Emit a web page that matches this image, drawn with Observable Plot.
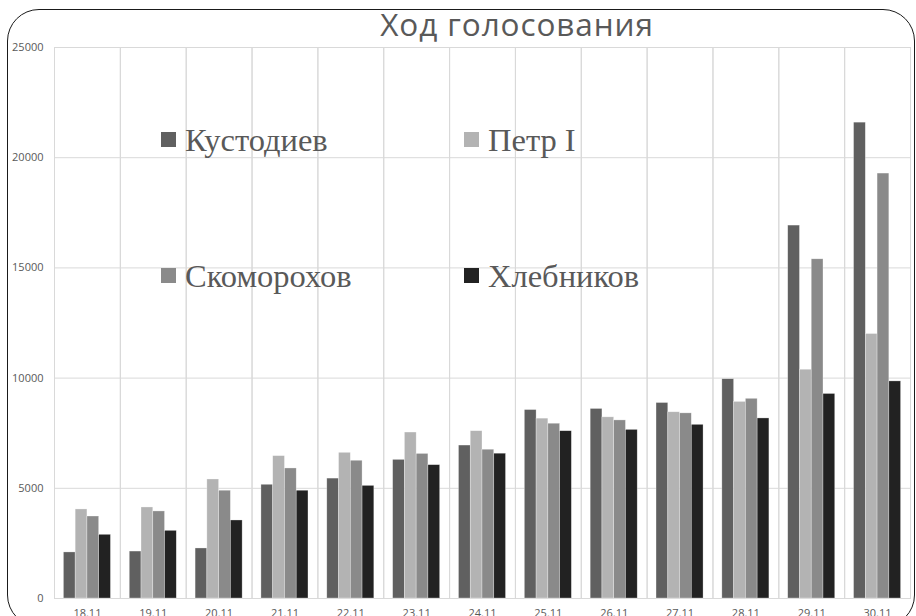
<!DOCTYPE html>
<html>
<head>
<meta charset="utf-8">
<script src="https://cdn.jsdelivr.net/npm/d3@7"></script>
<script src="https://cdn.jsdelivr.net/npm/@observablehq/plot@0.6"></script>
<style>
  html, body { margin: 0; padding: 0; background: #fff; }
  #wrap { position: relative; width: 916px; height: 616px; overflow: hidden; background: #fff; }
  #chart { position: absolute; left: 0; top: 0; }
  #border { position: absolute; left: 7px; top: 9px; width: 908px; height: 618px;
            border: 1.7px solid #1a1a1a; border-radius: 32px; box-sizing: border-box; pointer-events: none; }
  #title { position: absolute; left: 517px; top: 5px; transform: translateX(-50%);
           font-family: "Open Sans", sans-serif; font-size: 31.5px; letter-spacing: 0.9px;
           color: #595959; white-space: nowrap; line-height: 1.2; }
  .leg { position: absolute; font-family: "Liberation Serif", "Times New Roman", serif; font-size: 32.5px;
         color: #595959; white-space: nowrap; line-height: 1; }
  .sw { position: absolute; width: 15px; height: 15px; }
</style>
</head>
<body>
<div id="wrap">
  <div id="chart"></div>
  <div id="title"></div>
  <div id="legend"></div>
  <div id="border"></div>
</div>
<script>
const title = "Ход голосования";
const dates = ["18.11","19.11","20.11","21.11","22.11","23.11","24.11","25.11","26.11","27.11","28.11","29.11","30.11"];
const series = ["Кустодиев", "Петр I", "Скоморохов", "Хлебников"];
const colors = ["#606060", "#b3b3b3", "#8a8a8a", "#222222"];
const kustodiev  = [2090, 2130, 2270, 5160, 5440, 6290, 6940, 8550, 8600, 8870, 9950, 16920, 21590];
const petr       = [4040, 4130, 5400, 6460, 6610, 7530, 7590, 8160, 8220, 8450, 8920, 10380, 12000];
const skomorohov = [3720, 3950, 4890, 5900, 6250, 6560, 6750, 7930, 8080, 8400, 9060, 15390, 19280];
const hlebnikov  = [2890, 3070, 3540, 4890, 5110, 6050, 6570, 7590, 7650, 7880, 8170, 9280, 9850];
const yTicks = [0, 5000, 10000, 15000, 20000, 25000];

const valuesBySeries = [kustodiev, petr, skomorohov, hlebnikov];
const data = [];
dates.forEach((d, i) => series.forEach((s, j) => data.push({date: d, series: s, value: valuesBySeries[j][i]})));

const chart = Plot.plot({
  width: 916,
  height: 616,
  marginLeft: 54,
  marginRight: 6,
  marginTop: 47,
  marginBottom: 18,
  style: {fontFamily: "Open Sans, sans-serif", color: "#595959", background: "transparent"},
  fx: {domain: dates, padding: 0, round: false, label: null, axis: "bottom", tickSize: 0, tickPadding: 11, fontSize: 11},
  x: {domain: series, paddingInner: 0, paddingOuter: 0.8, round: false, axis: null},
  y: {domain: [0, 25000], ticks: yTicks, tickSize: 0, tickPadding: 11, label: null, tickFormat: d => String(d)},
  color: {domain: series, range: colors},
  marks: [
    Plot.ruleY(yTicks, {stroke: "#d9d9d9", strokeWidth: 1}),
    Plot.frame({stroke: "#d9d9d9", strokeWidth: 1}),
    Plot.barY(data, {fx: "date", x: "series", y: "value", fill: "series", stroke: "#ffffff", strokeOpacity: 0.5, strokeWidth: 0.6})
  ]
});
chart.style.fontSize = "11px";
document.getElementById("chart").appendChild(chart);
document.getElementById("title").textContent = title;

const legPos = [[161, 132], [464, 132], [161, 268], [464, 268]];
const legend = document.getElementById("legend");
series.forEach((s, i) => {
  const [lx, ly] = legPos[i];
  const sw = document.createElement("div");
  sw.className = "sw";
  sw.style.left = lx + "px"; sw.style.top = ly + "px"; sw.style.background = colors[i];
  legend.appendChild(sw);
  const t = document.createElement("div");
  t.className = "leg";
  t.textContent = s;
  t.style.left = (lx + 24) + "px"; t.style.top = (ly - 8) + "px";
  legend.appendChild(t);
});
</script>
</body>
</html>
